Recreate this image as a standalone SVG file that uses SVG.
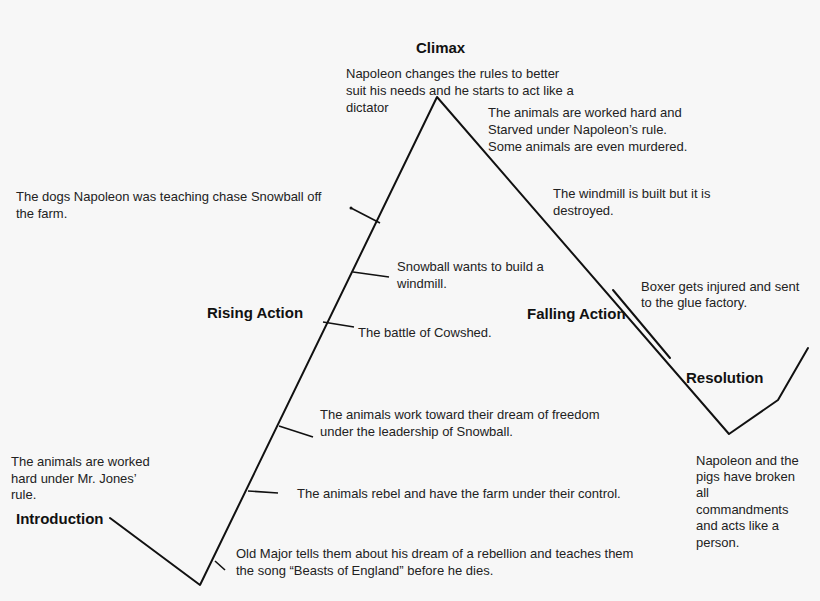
<svg xmlns="http://www.w3.org/2000/svg" width="820" height="601" viewBox="0 0 820 601">
<style>
text{font-family:"Liberation Sans",Arial,sans-serif;font-size:13px;fill:#222}
.h{font-size:15px;font-weight:bold;fill:#111}
.l{stroke:#111;stroke-width:2;fill:none;stroke-linecap:round;stroke-linejoin:round}
.t{stroke:#111;stroke-width:1.6;fill:none}
</style>
<rect width="820" height="601" fill="#f7f7f7"/>
<g id="connectors">
<polyline class="l" points="110,518 200,585 437,97 729,434 778,400 808,348"/>
<line class="l" x1="613" y1="290" x2="670" y2="358" stroke-width="3"/>
<line class="t" x1="351" y1="208" x2="380" y2="223"/>
<circle cx="351" cy="208" r="1.5" fill="#111"/>
<line class="t" x1="353" y1="272" x2="389" y2="277"/>
<line class="t" x1="323" y1="322" x2="354" y2="327"/>
<line class="t" x1="279" y1="426" x2="313" y2="437"/>
<line class="t" x1="248" y1="491" x2="278" y2="493"/>
<line class="t" x1="215" y1="561" x2="225" y2="570"/>
</g>
<g id="labels">
<text class="h" x="416" y="53">Climax</text>
<text class="h" x="207" y="318">Rising Action</text>
<text class="h" x="527" y="319">Falling Action</text>
<text class="h" x="686" y="383">Resolution</text>
<text class="h" x="16" y="524">Introduction</text>
<text x="346" y="78">Napoleon changes the rules to better</text>
<text x="346" y="95">suit his needs and he starts to act like a</text>
<text x="346" y="112">dictator</text>
<text x="488" y="117">The animals are worked hard and</text>
<text x="488" y="134">Starved under Napoleon’s rule.</text>
<text x="488" y="151">Some animals are even murdered.</text>
<text x="16" y="201">The dogs Napoleon was teaching chase Snowball off</text>
<text x="16" y="218">the farm.</text>
<text x="553" y="198">The windmill is built but it is</text>
<text x="553" y="215">destroyed.</text>
<text x="397" y="271">Snowball wants to build a</text>
<text x="397" y="288">windmill.</text>
<text x="641" y="291">Boxer gets injured and sent</text>
<text x="641" y="307">to the glue factory.</text>
<text x="358" y="337">The battle of Cowshed.</text>
<text x="320" y="419">The animals work toward their dream of freedom</text>
<text x="320" y="436">under the leadership of Snowball.</text>
<text x="11" y="466">The animals are worked</text>
<text x="11" y="483">hard under  Mr. Jones’</text>
<text x="11" y="499">rule.</text>
<text x="297" y="498">The animals rebel and have the farm under their control.</text>
<text x="696" y="465">Napoleon and the</text>
<text x="696" y="481">pigs have broken</text>
<text x="696" y="497">all</text>
<text x="696" y="514">commandments</text>
<text x="696" y="530">and acts like a</text>
<text x="696" y="547">person.</text>
<text x="236" y="558">Old Major tells them about his dream of a rebellion and teaches them</text>
<text x="236" y="575">the song “Beasts of England” before he dies.</text>
</g>
</svg>
